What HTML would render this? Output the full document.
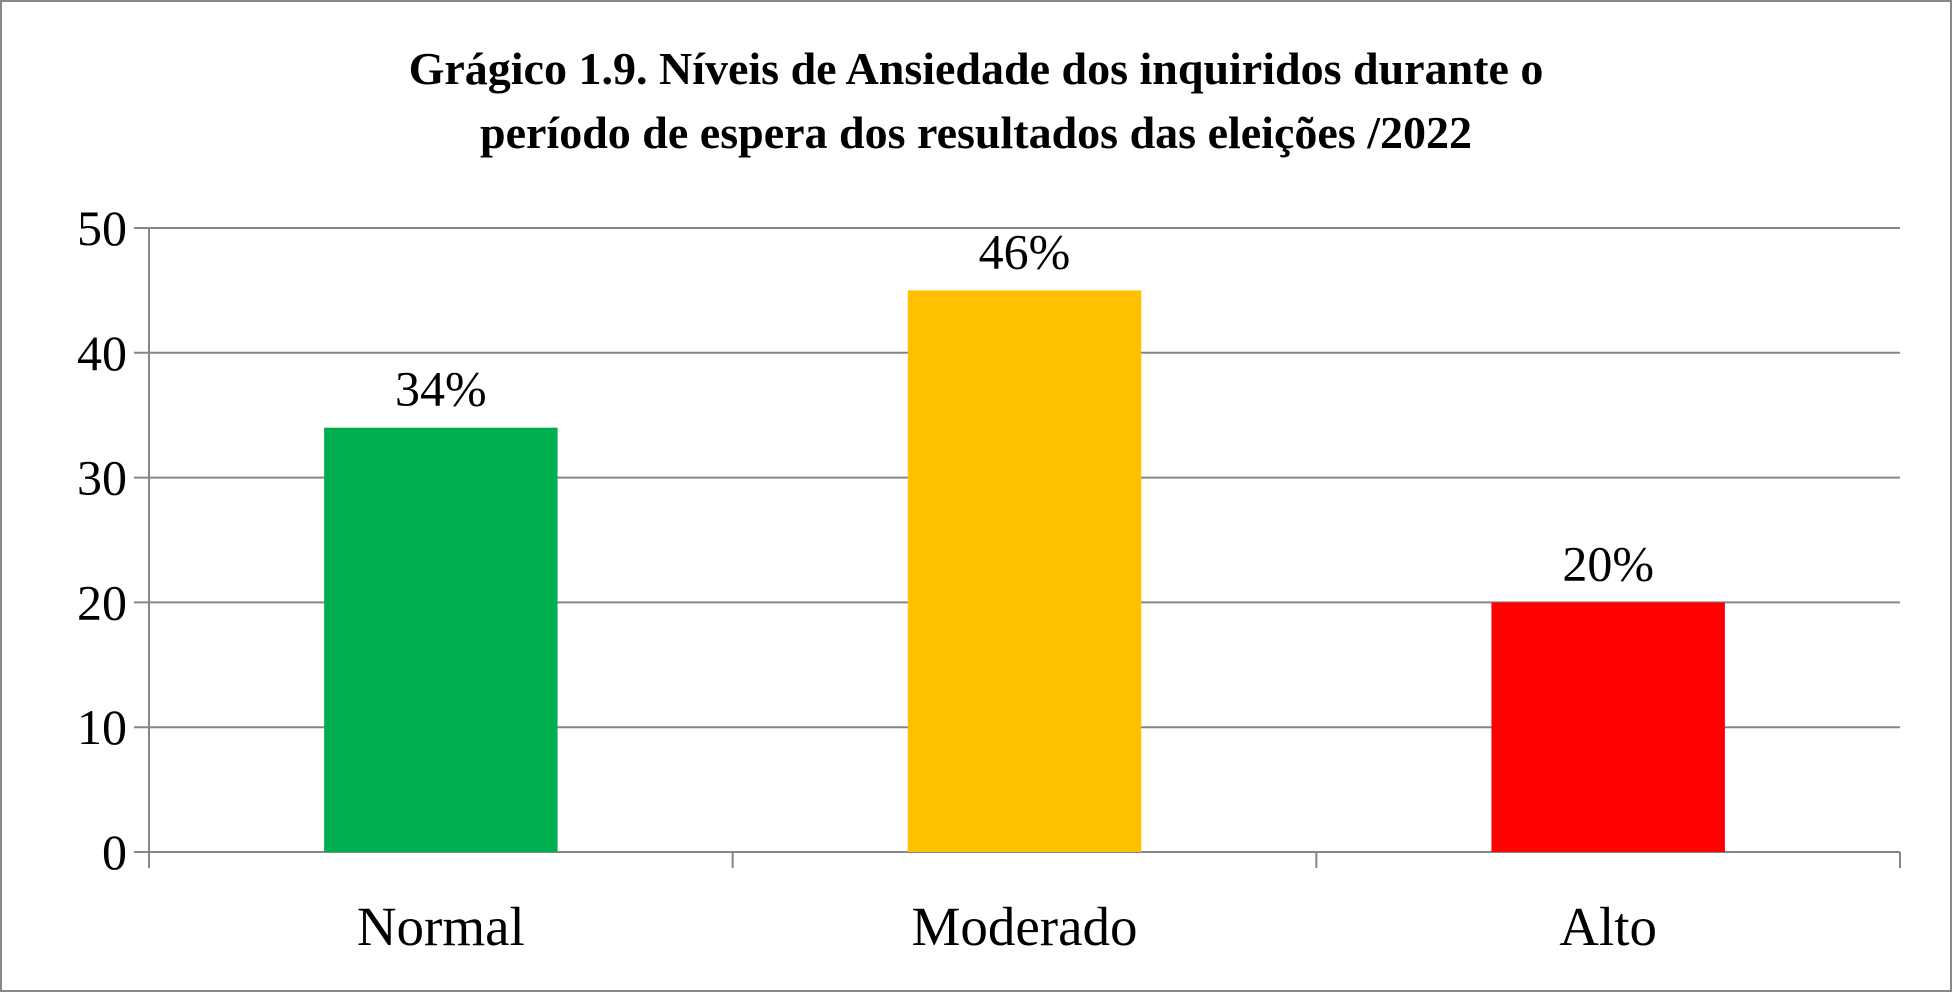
<!DOCTYPE html>
<html><head><meta charset="utf-8"><style>
html,body{margin:0;padding:0;background:#fff}
svg{display:block}
text{font-family:"Liberation Serif",serif;fill:#000}
</style></head><body>
<svg id="chart" width="1952" height="992" viewBox="0 0 1952 992">
<rect x="1" y="1" width="1950" height="990" fill="#fff" stroke="#888" stroke-width="2"/>
<text x="976" y="84" font-size="46" font-weight="bold" text-anchor="middle">Grágico 1.9. Níveis de Ansiedade dos inquiridos durante o</text>
<text x="976" y="148" font-size="46" font-weight="bold" text-anchor="middle">período de espera dos resultados das eleições /2022</text>
<g id="grid"></g><g id="bars"></g><g id="axes"></g>
</svg>
<script>
const categories=["Normal","Moderado","Alto"];
const values=[34,45,20];
const labels=["34%","46%","20%"];
const colors=["#00b050","#ffc000","#ff0000"];
const ticks=[0,10,20,30,40,50];
const L=149,R=1900,Y0=852,Y50=228,NS="http://www.w3.org/2000/svg";
const y=v=>Y0-(v/50)*(Y0-Y50);
const bw=(R-L)/categories.length;
const x=i=>L+bw*i+bw/2;
function mk(tag,attrs,parent,txt){const e=document.createElementNS(NS,tag);for(const k in attrs)e.setAttribute(k,attrs[k]);if(txt!==undefined)e.textContent=txt;document.getElementById(parent).appendChild(e);return e;}
ticks.forEach(t=>{
 const g=mk("line",{x1:L-15,x2:R,y1:y(t),y2:y(t),stroke:"#868686","stroke-width":2},"grid");
 
 
 const tl=mk("text",{x:L-22,y:y(t)+17,"font-size":50,"text-anchor":"end"},"axes",String(t));
 
 
});
const ya=mk("line",{x1:L,x2:L,y1:y(50),y2:Y0,stroke:"#868686","stroke-width":2},"axes");


for(let i=0;i<=categories.length;i++){
 const tk=mk("line",{x1:L+bw*i,x2:L+bw*i,y1:Y0,y2:Y0+16,stroke:"#868686","stroke-width":2},"axes");
 
 
}
categories.forEach((c,i)=>{
 const w=bw*0.4;
 const b=mk("rect",{x:x(i)-w/2,y:y(values[i]),width:w,height:Y0-y(values[i]),fill:colors[i]},"bars");
 
 
 const dl=mk("text",{x:x(i),y:y(values[i])-22,"font-size":50,"text-anchor":"middle"},"bars",labels[i]);
 
 
 const cl=mk("text",{x:x(i),y:945,"font-size":55,"text-anchor":"middle"},"axes",c);
 
 
});
</script>
</body></html>
